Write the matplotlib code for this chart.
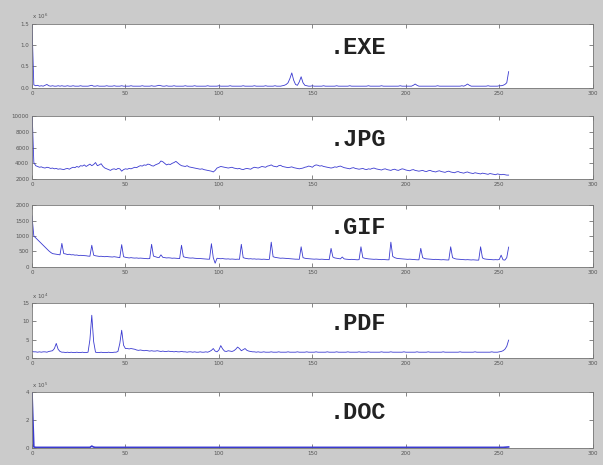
import numpy as np
import matplotlib
matplotlib.use("Agg")
import matplotlib.pyplot as plt

# byte value histograms (0..255) for each file type
byte_values = list(range(256))

# .EXE counts (x 10^6)
exe_counts = [1.50, 0.07, 0.05, 0.06, 0.04, 0.05, 0.04, 0.06, 0.08, 0.05, 0.04, 0.05, 0.04, 0.04, 0.05, 0.04,
              0.05, 0.04, 0.04, 0.05, 0.04, 0.04, 0.05, 0.04, 0.04, 0.04, 0.05, 0.04, 0.04, 0.04, 0.04, 0.05,
              0.06, 0.04, 0.04, 0.05, 0.04, 0.04, 0.04, 0.04, 0.05, 0.04, 0.04, 0.04, 0.05, 0.04, 0.04, 0.04,
              0.05, 0.04, 0.04, 0.04, 0.04, 0.05, 0.04, 0.04, 0.04, 0.04, 0.04, 0.05, 0.04, 0.04, 0.04, 0.04,
              0.05, 0.04, 0.04, 0.05, 0.06, 0.05, 0.04, 0.04, 0.05, 0.04, 0.04, 0.04, 0.05, 0.04, 0.04, 0.04,
              0.04, 0.04, 0.05, 0.04, 0.04, 0.04, 0.04, 0.05, 0.04, 0.04, 0.04, 0.04, 0.04, 0.04, 0.05, 0.04,
              0.04, 0.04, 0.04, 0.04, 0.05, 0.04, 0.04, 0.04, 0.04, 0.04, 0.05, 0.04, 0.04, 0.04, 0.04, 0.04,
              0.04, 0.05, 0.04, 0.04, 0.04, 0.04, 0.04, 0.05, 0.04, 0.04, 0.04, 0.04, 0.04, 0.05, 0.04, 0.04,
              0.04, 0.04, 0.05, 0.04, 0.04, 0.04, 0.05, 0.06, 0.08, 0.12, 0.22, 0.35, 0.18, 0.08, 0.06, 0.14,
              0.26, 0.12, 0.06, 0.05, 0.04, 0.04, 0.05, 0.04, 0.04, 0.04, 0.04, 0.04, 0.05, 0.04, 0.04, 0.04,
              0.04, 0.04, 0.04, 0.05, 0.04, 0.04, 0.04, 0.04, 0.04, 0.04, 0.05, 0.04, 0.04, 0.04, 0.04, 0.04,
              0.04, 0.04, 0.04, 0.04, 0.05, 0.04, 0.04, 0.04, 0.04, 0.04, 0.04, 0.05, 0.04, 0.04, 0.04, 0.04,
              0.04, 0.04, 0.04, 0.04, 0.04, 0.05, 0.04, 0.04, 0.04, 0.04, 0.04, 0.04, 0.06, 0.09, 0.06, 0.04,
              0.04, 0.04, 0.04, 0.04, 0.04, 0.04, 0.04, 0.04, 0.04, 0.05, 0.04, 0.04, 0.04, 0.04, 0.04, 0.04,
              0.04, 0.04, 0.04, 0.04, 0.04, 0.04, 0.05, 0.04, 0.06, 0.09, 0.06, 0.04, 0.04, 0.04, 0.04, 0.04,
              0.04, 0.04, 0.04, 0.04, 0.05, 0.04, 0.04, 0.04, 0.04, 0.04, 0.05, 0.05, 0.06, 0.08, 0.12, 0.38]

# .JPG counts
jpg_counts = [11000, 4100, 3700, 3600, 3500, 3550, 3450, 3400, 3500, 3450, 3350, 3400, 3300, 3350, 3250, 3300,
              3250, 3200, 3300, 3350, 3250, 3400, 3500, 3450, 3600, 3500, 3700, 3650, 3800, 3600, 3750, 3900,
              3700, 3850, 4100, 3700, 3800, 3950, 3600, 3400, 3300, 3200, 3100, 3250, 3300, 3200, 3350, 3300,
              3000, 3200, 3300, 3250, 3350, 3300, 3400, 3500, 3450, 3600, 3700, 3650, 3800, 3750, 3900, 3850,
              3700, 3650, 3800, 3900, 4000, 4300, 4200, 4000, 3800, 3900, 3850, 4000, 4100, 4250, 4050, 3850,
              3700, 3650, 3600, 3700, 3550, 3500, 3450, 3400, 3350, 3300, 3250, 3300, 3200, 3150, 3100, 3050,
              3000, 2900, 3100, 3400, 3500, 3600, 3550, 3500, 3450, 3400, 3450, 3500, 3400, 3350, 3300, 3350,
              3250, 3200, 3300, 3350, 3300, 3250, 3400, 3500, 3450, 3400, 3500, 3600, 3550, 3500, 3650, 3700,
              3800, 3650, 3600, 3550, 3700, 3750, 3600, 3550, 3500, 3450, 3500, 3550, 3450, 3400, 3350, 3300,
              3350, 3400, 3500, 3550, 3650, 3600, 3500, 3700, 3800, 3750, 3650, 3700, 3600, 3550, 3500, 3450,
              3400, 3450, 3550, 3500, 3600, 3650, 3550, 3450, 3400, 3350, 3300, 3400, 3450, 3350, 3300, 3250,
              3300, 3350, 3250, 3200, 3300, 3250, 3350, 3400, 3300, 3250, 3200, 3150, 3250, 3300, 3200, 3150,
              3100, 3200, 3250, 3150, 3100, 3200, 3300, 3250, 3150, 3100, 3050, 3150, 3200, 3100, 3050, 3000,
              3050, 3100, 3000, 2950, 3050, 3100, 3000, 2950, 2900, 3000, 3050, 2950, 2900, 2850, 2950, 3000,
              2900, 2850, 2800, 2900, 2950, 2850, 2800, 2750, 2850, 2900, 2800, 2750, 2700, 2800, 2750, 2700,
              2650, 2750, 2700, 2650, 2600, 2700, 2650, 2600, 2550, 2650, 2600, 2550, 2600, 2550, 2500, 2500]

# .GIF counts
gif_counts = [1650, 1000, 940, 880, 820, 760, 700, 640, 580, 520, 470, 430, 420, 410, 400, 390,
              760, 430, 420, 400, 410, 390, 395, 380, 385, 370, 375, 370, 365, 360, 350, 345,
              700, 380, 360, 350, 340, 345, 335, 330, 340, 330, 325, 320, 330, 320, 310, 300,
              720, 330, 310, 300, 290, 300, 290, 285, 290, 280, 285, 280, 275, 270, 265, 270,
              730, 350, 330, 310, 300, 390, 310, 300, 290, 295, 290, 280, 285, 280, 275, 270,
              700, 330, 310, 300, 290, 285, 290, 280, 275, 270, 270, 265, 260, 255, 250, 250,
              750, 300, 120, 280, 270, 265, 270, 260, 255, 260, 250, 255, 250, 245, 250, 245,
              730, 300, 280, 270, 260, 265, 255, 260, 250, 255, 250, 245, 250, 245, 240, 245,
              800, 330, 310, 300, 290, 280, 285, 280, 275, 270, 265, 260, 255, 250, 250, 245,
              650, 300, 280, 270, 265, 260, 255, 250, 255, 250, 245, 250, 245, 240, 240, 235,
              600, 320, 290, 280, 270, 260, 320, 260, 250, 245, 240, 245, 240, 235, 230, 235,
              650, 300, 280, 270, 260, 255, 250, 245, 250, 245, 240, 235, 240, 235, 230, 230,
              800, 340, 300, 280, 270, 265, 260, 255, 250, 245, 250, 245, 240, 235, 230, 230,
              600, 300, 270, 260, 255, 250, 245, 240, 245, 240, 235, 230, 235, 230, 225, 225,
              650, 300, 270, 255, 250, 245, 240, 235, 230, 235, 230, 225, 230, 225, 220, 220,
              650, 290, 260, 250, 245, 240, 235, 230, 235, 230, 240, 380, 230, 220, 300, 640]

# .PDF counts (x 10^4)
pdf_counts = [1.8, 1.7, 1.7, 1.6, 1.7, 1.6, 1.7, 1.7, 1.6, 1.8, 1.9, 2.0, 2.6, 4.0, 2.4, 1.8,
              1.6, 1.6, 1.5, 1.6, 1.5, 1.6, 1.5, 1.5, 1.6, 1.5, 1.5, 1.6, 1.5, 1.5, 1.6, 5.0,
              11.7, 4.5, 1.6, 1.5, 1.5, 1.6, 1.5, 1.5, 1.5, 1.6, 1.5, 1.5, 1.6, 1.6, 1.8, 4.0,
              7.6, 3.5, 2.6, 2.6, 2.5, 2.6, 2.5, 2.4, 2.2, 2.1, 2.2, 2.1, 2.0, 2.1, 2.0, 1.9,
              2.0, 1.9, 1.9, 2.0, 1.9, 1.8, 1.9, 1.8, 1.8, 1.9, 1.8, 1.8, 1.7, 1.8, 1.7, 1.7,
              1.8, 1.7, 1.7, 1.6, 1.7, 1.7, 1.6, 1.7, 1.6, 1.6, 1.7, 1.6, 1.6, 1.7, 1.6, 1.8,
              2.1, 2.6, 1.9, 1.7, 2.2, 3.4, 2.5, 1.9, 1.8, 2.0, 1.9, 1.8, 2.0, 2.4, 3.0, 2.6,
              2.0, 2.3, 2.6, 2.1, 1.9, 1.8, 1.7, 1.7, 1.6, 1.7, 1.6, 1.6, 1.7, 1.6, 1.6, 1.6,
              1.7, 1.6, 1.6, 1.6, 1.7, 1.6, 1.6, 1.6, 1.6, 1.7, 1.6, 1.6, 1.6, 1.6, 1.7, 1.6,
              1.6, 1.6, 1.6, 1.7, 1.6, 1.6, 1.6, 1.6, 1.7, 1.6, 1.6, 1.6, 1.6, 1.6, 1.7, 1.6,
              1.6, 1.6, 1.6, 1.7, 1.6, 1.6, 1.6, 1.6, 1.6, 1.7, 1.6, 1.6, 1.6, 1.6, 1.6, 1.7,
              1.6, 1.6, 1.6, 1.6, 1.7, 1.6, 1.6, 1.6, 1.6, 1.6, 1.6, 1.7, 1.6, 1.6, 1.6, 1.6,
              1.7, 1.6, 1.6, 1.6, 1.6, 1.6, 1.6, 1.7, 1.6, 1.6, 1.6, 1.6, 1.6, 1.6, 1.7, 1.6,
              1.6, 1.6, 1.6, 1.6, 1.7, 1.6, 1.6, 1.6, 1.6, 1.6, 1.6, 1.6, 1.7, 1.6, 1.6, 1.6,
              1.6, 1.6, 1.6, 1.6, 1.6, 1.7, 1.6, 1.6, 1.6, 1.6, 1.6, 1.6, 1.6, 1.7, 1.6, 1.6,
              1.6, 1.6, 1.6, 1.6, 1.6, 1.6, 1.7, 1.6, 1.6, 1.6, 1.7, 1.8, 2.0, 2.4, 3.2, 4.9]

# .DOC counts (x 10^5)
doc_counts = [4.0, 0.06] + [0.03] * 30 + [0.12, 0.05] + [0.03] * 219 + [0.04, 0.05, 0.06]

series = [exe_counts, jpg_counts, gif_counts, pdf_counts, doc_counts]
labels = [".EXE", ".JPG", ".GIF", ".PDF", ".DOC"]
y_limits = [(0, 1.5), (2000, 10000), (0, 2000), (0, 15), (0, 4)]
y_ticks = [[0, 0.5, 1, 1.5], [2000, 4000, 6000, 8000, 10000], [0, 500, 1000, 1500, 2000],
           [0, 5, 10, 15], [0, 2, 4]]
multipliers = [r"x 10$^6$", None, None, r"x 10$^4$", r"x 10$^5$"]
x_ticks = [0, 50, 100, 150, 200, 250, 300]

# axes boxes (left, bottom, width, height) in figure fraction
boxes = [(0.053, 0.811, 0.930, 0.138),
         (0.053, 0.615, 0.930, 0.135),
         (0.053, 0.426, 0.930, 0.133),
         (0.053, 0.230, 0.930, 0.118),
         (0.053, 0.037, 0.930, 0.120)]

fig = plt.figure(figsize=(6.03, 4.65), dpi=100, facecolor="#cbcbcb")

for i in range(5):
    ax = fig.add_axes(boxes[i])
    lw = 1.2 if i == 4 else 0.6
    ax.plot(byte_values[:len(series[i])], series[i], color="#3a3ad0", linewidth=lw)
    ax.set_xlim(0, 300)
    ax.set_ylim(*y_limits[i])
    ax.set_xticks(x_ticks)
    ax.set_yticks(y_ticks[i])
    ax.tick_params(direction="in", length=3, width=0.5, labelsize=4, colors="#555555",
                   top=True, right=True, pad=2)
    for s in ax.spines.values():
        s.set_color("#777777")
        s.set_linewidth(0.6)
    ax.text(0.531, 0.63, labels[i], transform=ax.transAxes, ha="left", va="center",
            fontsize=17, fontweight="bold", family="Liberation Mono", color="#222222")
    if multipliers[i]:
        ax.text(0.0, 1.04, multipliers[i], transform=ax.transAxes, ha="left", va="bottom",
                fontsize=4, color="#555555")

fig.savefig("out.png", dpi=100, facecolor=fig.get_facecolor())
